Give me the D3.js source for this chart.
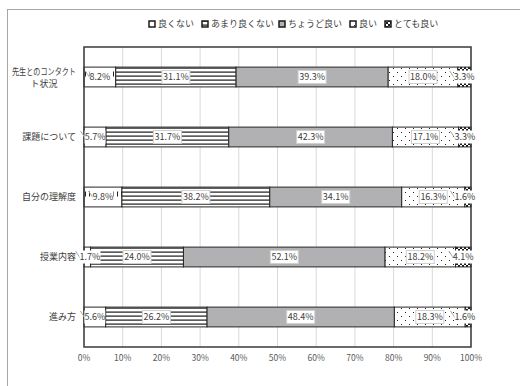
<!DOCTYPE html>
<html>
<head>
<meta charset="utf-8">
<script src="https://cdn.jsdelivr.net/npm/d3@7"></script>
<style>
  html, body { margin: 0; padding: 0; background: #fff; }
  svg { display: block; font-family: "Noto Sans CJK JP", "Noto Sans", sans-serif; }
</style>
</head>
<body>
<svg id="chart" width="520" height="386"></svg>
<script>
// Survey categories (top to bottom) and response levels
const categories = ["先生とのコンタクト状況", "課題について", "自分の理解度", "授業内容", "進み方"];
const levels = ["良くない", "あまり良くない", "ちょうど良い", "良い", "とても良い"];

// Percentages per level, one value per category
const badValues       = [8.2, 5.7, 9.8, 1.7, 5.6];
const ratherBadValues = [31.1, 31.7, 38.2, 24.0, 26.2];
const justRightValues = [39.3, 42.3, 34.1, 52.1, 48.4];
const goodValues      = [18.0, 17.1, 16.3, 18.2, 18.3];
const veryGoodValues  = [3.3, 3.3, 1.6, 4.1, 1.6];

const xTicks = [0, 10, 20, 30, 40, 50, 60, 70, 80, 90, 100];

const seriesValues = [badValues, ratherBadValues, justRightValues, goodValues, veryGoodValues];

const svg = d3.select("#chart");
const margin = { left: 84, right: 49, top: 47, bottom: 39 };
const W = 520, H = 386;
const innerW = W - margin.left - margin.right;
const innerH = H - margin.top - margin.bottom;

// outer chart frame (runs past the right and bottom edges of the view)
svg.append("rect")
  .attr("x", 7.5).attr("y", 9.5)
  .attr("width", 540).attr("height", 400)
  .attr("fill", "none").attr("stroke", "#a6a6a6").attr("stroke-width", 1);

// fill patterns for each response level
const defs = svg.append("defs");

// 良くない: sparse short dashes on white
const p0 = defs.append("pattern").attr("id", "pat0")
  .attr("patternUnits", "userSpaceOnUse").attr("width", 4).attr("height", 20).attr("y", 7);
p0.append("rect").attr("width", 4).attr("height", 20).attr("fill", "#fff");
p0.append("rect").attr("x", 1).attr("y", 0).attr("width", 1).attr("height", 2.5).attr("fill", "#222");
p0.append("rect").attr("x", 1).attr("y", 17.5).attr("width", 1).attr("height", 2.5).attr("fill", "#222");

// あまり良くない: horizontal stripes
const p1 = defs.append("pattern").attr("id", "pat1")
  .attr("patternUnits", "userSpaceOnUse").attr("width", 8).attr("height", 4).attr("y", 7);
p1.append("rect").attr("width", 8).attr("height", 4).attr("fill", "#fff");
p1.append("rect").attr("y", 1.5).attr("width", 8).attr("height", 1.2).attr("fill", "#1a1a1a");

// 良い: sparse dots
const p3 = defs.append("pattern").attr("id", "pat3")
  .attr("patternUnits", "userSpaceOnUse").attr("width", 8).attr("height", 8).attr("y", 7);
p3.append("rect").attr("width", 8).attr("height", 8).attr("fill", "#fff");
p3.append("rect").attr("x", 1).attr("y", 2).attr("width", 1).attr("height", 1).attr("fill", "#222");
p3.append("rect").attr("x", 5).attr("y", 6).attr("width", 1).attr("height", 1).attr("fill", "#222");

// とても良い: dense dark dots
const p4 = defs.append("pattern").attr("id", "pat4")
  .attr("patternUnits", "userSpaceOnUse").attr("width", 4).attr("height", 4);
p4.append("rect").attr("width", 4).attr("height", 4).attr("fill", "#fff");
p4.append("rect").attr("x", 0).attr("y", 0).attr("width", 2).attr("height", 2).attr("fill", "#1a1a1a");
p4.append("rect").attr("x", 2).attr("y", 2).attr("width", 2).attr("height", 2).attr("fill", "#1a1a1a");

const fills = ["url(#pat0)", "url(#pat1)", "#b1b1b3", "url(#pat3)", "url(#pat4)"];

const g = svg.append("g").attr("transform", `translate(${margin.left},${margin.top})`);

const x = d3.scaleLinear().domain([0, 100]).range([0, innerW]);
const y = d3.scaleBand().domain(categories).range([0, innerH]).paddingInner(0.67).paddingOuter(0.335);

// vertical gridlines
g.append("g").selectAll("line").data(xTicks).join("line")
  .attr("x1", d => x(d)).attr("x2", d => x(d))
  .attr("y1", 0).attr("y2", innerH)
  .attr("stroke", "#d9d9d9").attr("stroke-width", 1);

// stacked data
const rows = categories.map((c, i) => {
  const r = { category: c };
  levels.forEach((l, j) => r[l] = seriesValues[j][i]);
  return r;
});
const stacked = d3.stack().keys(levels)(rows);

// bar segments
const layers = g.append("g").selectAll("g").data(stacked).join("g")
  .attr("fill", (d, i) => fills[i]);
layers.selectAll("rect").data(d => d).join("rect")
  .attr("x", d => x(d[0]))
  .attr("y", d => y(d.data.category))
  .attr("width", d => x(Math.min(d[1], 100)) - x(d[0]))
  .attr("height", y.bandwidth())
  .attr("stroke", "#262626").attr("stroke-width", 1);

// plot area border
g.append("rect")
  .attr("x", 0).attr("y", 0).attr("width", innerW).attr("height", innerH)
  .attr("fill", "none").attr("stroke", "#3a3a3a").attr("stroke-width", 1.5);

// data labels
const labelData = [];
stacked.forEach((layer, li) => {
  layer.forEach(d => {
    const v = d.data[layer.key];
    const x0 = x(d[0]), x1 = x(Math.min(d[1], 100));
    labelData.push({ value: v, cx: (x0 + x1) / 2, cy: y(d.data.category) + y.bandwidth() / 2, small: v < 10, layer: li });
  });
});

const labelG = g.append("g").selectAll("g").data(labelData).join("g")
  .attr("transform", d => {
    let cx = d.cx;
    if (d.small && d.layer === 4) cx = Math.min(cx, innerW - 6);
    if (d.small && d.layer === 0) cx = Math.max(cx, 6);
    return `translate(${cx},${d.cy})`;
  });

labelG.each(function(d) {
  const sel = d3.select(this);
  const txt = d.value.toFixed(1) + "%";
  const w = txt.length * 5 + 3;
  // leader line for small segments
  if (d.small) {
    sel.append("line")
      .attr("x1", -w / 2 - 3).attr("y1", -6)
      .attr("x2", -w / 2 + 3).attr("y2", 3)
      .attr("stroke", "#a6a6a6").attr("stroke-width", 1);
  }
  sel.append("rect")
    .attr("x", -w / 2 + (d.small ? 1 : 0)).attr("y", -6.5)
    .attr("width", w - (d.small ? 2 : 0)).attr("height", 13)
    .attr("fill", "#fff")
    .attr("stroke", d.small ? "none" : "#d0d0d0").attr("stroke-width", 1);
  sel.append("text")
    .attr("text-anchor", "middle").attr("dy", "0.35em")
    .attr("font-size", 9).attr("fill", "#404040")
    .text(txt);
});

// category labels
const catG = svg.append("g");
categories.forEach(c => {
  const cy = margin.top + y(c) + y.bandwidth() / 2;
  if (c === "先生とのコンタクト状況") {
    const t = catG.append("text").attr("text-anchor", "middle")
      .attr("font-size", 9).attr("fill", "#404040");
    t.append("tspan").attr("x", 44).attr("y", cy - 2)
      .attr("textLength", 64).attr("lengthAdjust", "spacingAndGlyphs")
      .text("先生とのコンタクト");
    t.append("tspan").attr("x", 44).attr("y", cy + 10).text("ト状況");
  } else {
    catG.append("text").attr("x", 76).attr("y", cy).attr("dy", "0.35em")
      .attr("text-anchor", "end").attr("font-size", 9).attr("fill", "#404040").text(c);
  }
});

// x axis tick labels
svg.append("g").selectAll("text").data(xTicks).join("text")
  .attr("x", d => margin.left + x(d))
  .attr("y", margin.top + innerH + 11).attr("dy", "0.35em")
  .attr("text-anchor", "middle").attr("font-size", 8.5).attr("fill", "#595959")
  .text(d => d + "%");

// legend
const legendX = [152, 205, 282, 353, 388];
const legend = svg.append("g").selectAll("g").data(levels).join("g")
  .attr("transform", (d, i) => `translate(${legendX[i]},24)`);
legend.append("rect")
  .attr("x", -3).attr("y", -3).attr("width", 6).attr("height", 6)
  .attr("fill", (d, i) => fills[i]).attr("stroke", "#1a1a1a").attr("stroke-width", 1.5);
legend.append("text")
  .attr("x", 6).attr("dy", "0.35em").attr("font-size", 9).attr("fill", "#404040")
  .text(d => d);
</script>
</body>
</html>
